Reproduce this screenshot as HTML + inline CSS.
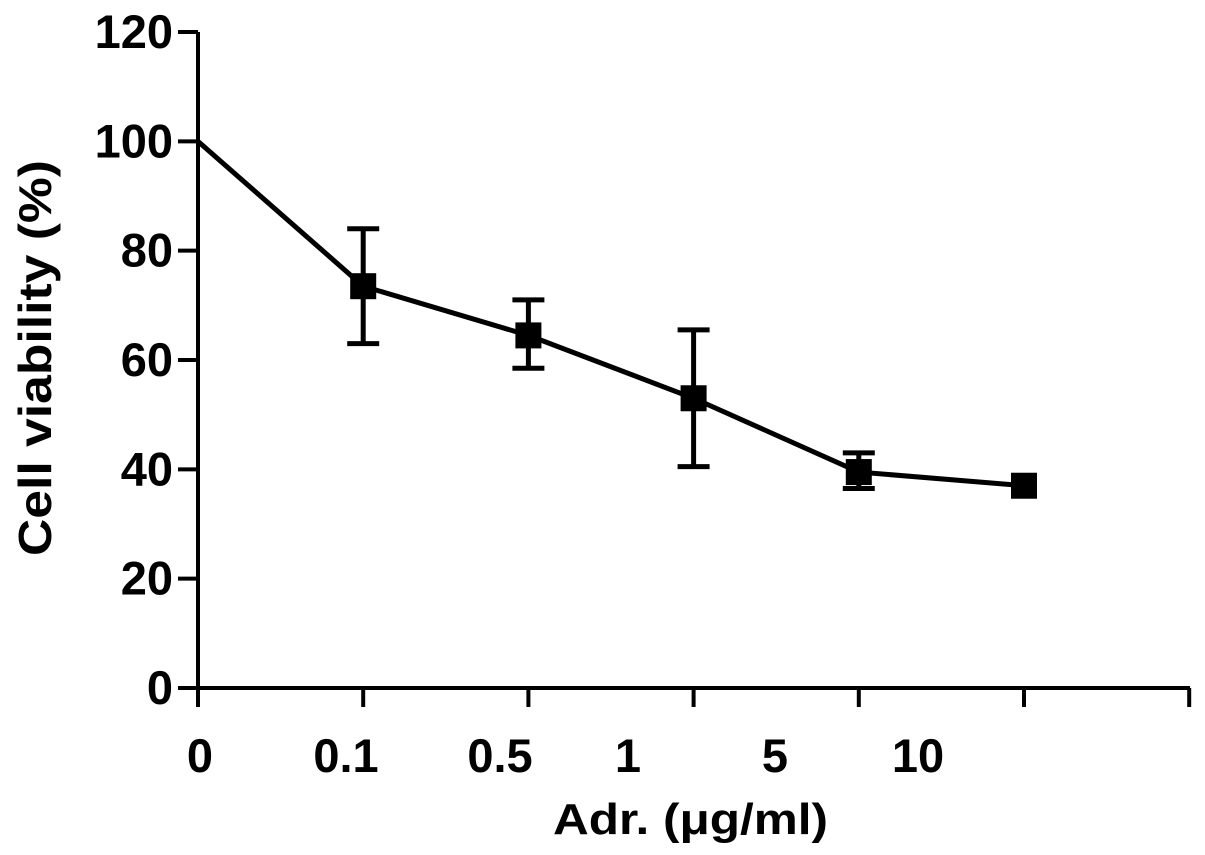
<!DOCTYPE html>
<html><head><meta charset="utf-8"><style>
html,body{margin:0;padding:0;background:#fff;}
svg{display:block;font-family:"Liberation Sans",Arial,sans-serif;font-weight:bold;}
</style></head><body>
<svg id="chart" width="1205" height="855" viewBox="0 0 1205 855"></svg>
<script>
const categories = ["0","0.1","0.5","1","5","10"];
const meanValues = [100, 73.5, 64.5, 53, 39.5, 37];
const errLow = [100, 63, 58.5, 40.5, 36.5, 37];
const errHigh = [100, 84, 71, 65.5, 43, 37];
const yTicks = [0,20,40,60,80,100,120];

const svg = document.getElementById('chart');
const NS = 'http://www.w3.org/2000/svg';
const X0 = 198, DX = 165.2, Y0 = 688, YS = (688-32)/120;
const xPos = i => X0 + i*DX;
const yPos = v => Y0 - v*YS;
function mk(tag, attrs, parent){const e=document.createElementNS(NS,tag);for(const k in attrs)e.setAttribute(k,attrs[k]);(parent||svg).appendChild(e);return e;}

const axes = mk('g',{stroke:'#000','stroke-width':4,fill:'none'});


mk('line',{x1:X0,y1:yPos(120),x2:X0,y2:Y0},axes);
mk('line',{x1:X0-20,y1:Y0,x2:1190,y2:Y0},axes);
yTicks.forEach(t=>{
  mk('line',{x1:X0-20,y1:yPos(t),x2:X0,y2:yPos(t)},axes);
  const tx=mk('text',{x:173,y:yPos(t)+16,'text-anchor':'end','font-size':47,fill:'#000'});
  tx.textContent=t;
  
  
});
for(let i=0;i<=6;i++){ mk('line',{x1:xPos(i),y1:Y0,x2:xPos(i),y2:Y0+19},axes); }
const labelX=[200,346,500,628,775,918];
categories.forEach((c,i)=>{
  const tx=mk('text',{x:labelX[i],y:772,'text-anchor':'middle','font-size':47,fill:'#000'});
  tx.textContent=c;
  
  
});
const xt=mk('text',{x:553,y:834,'font-size':44,fill:'#000',textLength:275,lengthAdjust:'spacingAndGlyphs'});
xt.textContent='Adr. (μg/ml)';


const yt=mk('text',{x:0,y:0,'font-size':46,fill:'#000',transform:'translate(51,556) rotate(-90)',textLength:396,lengthAdjust:'spacingAndGlyphs'});
yt.textContent='Cell viability (%)';



const line=mk('polyline',{points:meanValues.map((v,i)=>xPos(i)+','+yPos(v)).join(' '),fill:'none',stroke:'#000','stroke-width':5});


meanValues.forEach((v,i)=>{
  if(errHigh[i]!==errLow[i]){
    const g=mk('g',{stroke:'#000','stroke-width':5});
    
    
    const x=xPos(i);
    mk('line',{x1:x,y1:yPos(errHigh[i]),x2:x,y2:yPos(errLow[i])},g);
    mk('line',{x1:x-16,y1:yPos(errHigh[i]),x2:x+16,y2:yPos(errHigh[i])},g);
    mk('line',{x1:x-16,y1:yPos(errLow[i]),x2:x+16,y2:yPos(errLow[i])},g);
  }
  if(i>0){
    const r=mk('rect',{x:xPos(i)-13,y:yPos(v)-13,width:26,height:26,fill:'#000'});
    
    
  }
});
</script>
</body></html>
